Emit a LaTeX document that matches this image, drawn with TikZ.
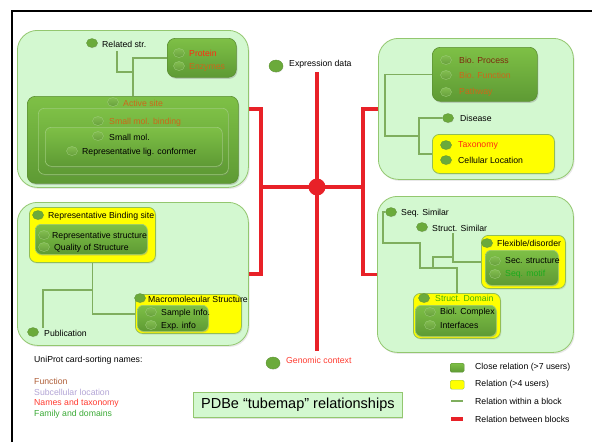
\documentclass[tikz,border=0pt]{standalone}
\usepackage{fontspec}
\setmainfont{Liberation Sans}
\usetikzlibrary{shapes.geometric,shadows}

\definecolor{blockfill}{HTML}{D3F8D0}
\definecolor{blockedge}{HTML}{93C76F}
\definecolor{boxtop}{HTML}{7EC046}
\definecolor{boxbot}{HTML}{5E9A34}
\definecolor{boxedge}{HTML}{5B8F33}
\definecolor{yelfill}{HTML}{FFFF00}
\definecolor{yeledge}{HTML}{93BE55}
\definecolor{dotgreen}{HTML}{6BAA3B}
\definecolor{dotedge}{HTML}{5A9030}
\definecolor{bubtop}{HTML}{82BE50}
\definecolor{bubbot}{HTML}{679F3C}
\definecolor{bubedge}{HTML}{9CCB78}
\definecolor{tubegreen}{HTML}{7FAE5E}
\definecolor{tubered}{HTML}{E82128}
\definecolor{cred}{HTML}{FF2A12}
\definecolor{corange}{HTML}{CC671A}
\definecolor{cbrown}{HTML}{7E2A0E}
\definecolor{cgreen}{HTML}{1DAA1D}
\definecolor{cyelgreen}{HTML}{44B400}
\definecolor{cfunc}{HTML}{B0603A}
\definecolor{csub}{HTML}{B3A5D6}
\definecolor{cnames}{HTML}{FF3B30}
\definecolor{cfamily}{HTML}{3AAA35}

\begin{document}
\begin{tikzpicture}[x=1pt,y=-1pt,
  sz/.style 2 args={minimum width=#1pt, minimum height=#2pt},
  block/.style={draw=blockedge, fill=blockfill, line width=0.8pt, rounded corners=20pt,
    anchor=north west, inner sep=0pt,
    drop shadow={opacity=0.18, shadow xshift=1.2pt, shadow yshift=-1.5pt}},
  greenbox/.style={draw=boxedge, top color=boxtop, bottom color=boxbot, line width=0.6pt,
    rounded corners=8pt, anchor=north west, inner sep=0pt,
    drop shadow={opacity=0.35, shadow xshift=1pt, shadow yshift=-1.5pt}},
  innerbox/.style={draw=bubedge, top color=boxtop, bottom color=boxbot, line width=0.6pt,
    rounded corners=6pt, anchor=north west, inner sep=0pt,
    drop shadow={opacity=0.3, shadow xshift=0.8pt, shadow yshift=-1.2pt}},
  yelbox/.style={draw=yeledge, fill=yelfill, line width=0.8pt, rounded corners=7pt,
    anchor=north west, inner sep=0pt,
    drop shadow={opacity=0.2, shadow xshift=1pt, shadow yshift=-1.2pt}},
  dot/.style={ellipse, inner sep=0pt, minimum width=11pt, minimum height=9pt,
    fill=dotgreen, draw=dotedge, line width=0.3pt,
    drop shadow={opacity=0.2, shadow xshift=0.5pt, shadow yshift=-0.8pt}},
  bigdot/.style={dot, minimum width=14pt, minimum height=12pt},
  bub/.style={ellipse, inner sep=0pt, minimum width=11pt, minimum height=9pt,
    top color=bubtop, bottom color=bubbot, draw=bubedge, line width=0.4pt},
  lbl/.style={anchor=west, inner sep=0pt, font=\fontsize{8.7}{10}\selectfont},
  tube/.style={draw=tubegreen, line width=1.6pt},
  redtube/.style={draw=tubered, line width=3.5pt}
]
\useasboundingbox (0,0) rectangle (592,442);
\fill[white] (0,0) rectangle (592,442);

% outer frame
\draw[line width=2pt] (12,442) -- (12,11) -- (592,11);

% ---------- the four blocks ----------
\node[block, sz={231}{157}] (b1) at (17,30) {};
\node[block, sz={195}{141}] (b2) at (378,38) {};
\node[block, sz={231}{143}] (b3) at (17,202) {};
\node[block, sz={196}{156}] (b4) at (377,196) {};

% ---------- red links between blocks ----------
\coordinate (jl) at (261,187);
\coordinate (jr) at (363,187);
\coordinate (vtop) at (317,72);
\coordinate (vbot) at (317,351);
\draw[redtube] (b1.east) -| (jl) |- (b3.east);
\draw[redtube] (b2.west) -| (jr) |- (b4.west);
\draw[redtube] (jl) -- (jr);
\draw[redtube] (vtop) -- (vbot);
\node[circle, fill=tubered, minimum size=17pt, inner sep=0pt] (hub) at (317,187) {};

% ---------- top-left block: ligands ----------
\node[greenbox, sz={69}{39}] (prot) at (167,38) {};
\node[greenbox, sz={211}{87}] (act) at (27,96) {};
\node[innerbox, sz={190}{66}] (smb) at (38,108) {};
\node[innerbox, sz={177}{39}] (sm) at (45,127) {};

\coordinate (relA) at (117,51);
\coordinate (relB) at (132,72);
\draw[tube] (relA) |- (relB);
\draw[tube] (prot.west) -| (act.north);

\node[dot] (relD) at (92,43) {};
\node[lbl] (relT) at (102,44) {Related str.};
\node[bub] (protD) at (179,53) {};
\node[lbl, text=cred] (protT) at (189,53) {Protein};
\node[bub] (enzD) at (179,66) {};
\node[lbl, text=corange] (enzT) at (189,67) {Enzymes};
\node[bub] (actD) at (113,102) {};
\node[lbl, text=corange] (actT) at (123,103) {Active site};
\node[bub] (smbD) at (98,121) {};
\node[lbl, text=corange] (smbT) at (109,122) {Small mol. binding};
\node[bub] (smD) at (98,136) {};
\node[lbl] (smT) at (109,137) {Small mol.};
\node[bub] (rlcD) at (72,151) {};
\node[lbl] (rlcT) at (82,152) {Representative lig. conformer};

% ---------- free stations on the red line ----------
\node[bigdot] (expD) at (276,66) {};
\node[lbl] (expT) at (289,64) {Expression data};
\node[bigdot] (genD) at (273,363) {};
\node[lbl, text=cnames] (genT) at (286,360) {Genomic context};

% ---------- top-right block: biology ----------
\node[greenbox, sz={105}{54}] (bio) at (432,47) {};
\node[yelbox, sz={122}{39}] (tax) at (432,134) {};
\coordinate (trA) at (385,136);
\coordinate (trB) at (419,136);
\draw[tube] (bio.west) -| (trA) -- (trB);
\node[dot] (disD) at (448,118) {};
\draw[tube] (disD.west) -| (trB) |- (tax.west);

\node[bub] (bpD) at (446,60) {};
\node[lbl, text=cbrown] (bpT) at (459,60) {Bio. Process};
\node[bub] (bfD) at (446,75) {};
\node[lbl, text=corange] (bfT) at (459,75) {Bio. Function};
\node[bub] (pwD) at (446,92) {};
\node[lbl, text=corange] (pwT) at (459,92) {Pathway};
\node[lbl] (disT) at (460,118) {Disease};
\node[dot] (taxD) at (446,145) {};
\node[lbl, text=cred] (taxT) at (458,145) {Taxonomy};
\node[dot] (celD) at (446,160) {};
\node[lbl] (celT) at (458,160) {Cellular Location};

% ---------- bottom-left block: structures ----------
\node[yelbox, sz={126}{55}] (rbs) at (29,207) {};
\node[innerbox, sz={112}{30}] (rs) at (35,224) {};
\node[yelbox, sz={106}{39}] (mms) at (135,294) {};
\node[innerbox, sz={71}{26}] (si) at (137,305) {};
\coordinate (blA) at (92,290);
\coordinate (blB) at (43,328);
\draw[tube] (rbs.south) |- (mms.west);
\draw[tube] (blA) -| (blB);

\node[dot] (rbsD) at (38,215) {};
\node[lbl] (rbsT) at (48,216) {Representative Binding site};
\node[bub] (rsD) at (44,235) {};
\node[lbl] (rsT) at (52,236) {Representative structure};
\node[bub] (qsD) at (44,247) {};
\node[lbl] (qsT) at (54,248) {Quality of Structure};
\node[dot] (mmsD) at (140,298) {};
\node[lbl] (mmsT) at (148,299) {Macromolecular Structure};
\node[bub] (siD) at (151,312) {};
\node[lbl] (siT) at (161,313) {Sample Info.};
\node[bub] (eiD) at (151,325) {};
\node[lbl] (eiT) at (161,326) {Exp. info};
\node[dot] (pubD) at (33,332) {};
\node[lbl] (pubT) at (44,333) {Publication};

% ---------- bottom-right block: similarity ----------
\node[yelbox, sz={84}{53}] (flex) at (481,235) {};
\node[innerbox, sz={73}{35}] (sec) at (485,250) {};
\node[yelbox, sz={87}{45}] (sd) at (413,293) {};
\node[innerbox, sz={81}{31}] (bc) at (415,305) {};

\node[dot] (seqD) at (391,212) {};
\node[dot] (ssD) at (422,227) {};
\coordinate (brA) at (383,243);
\coordinate (brB) at (420,268);
\coordinate (ssA) at (453,233);
\coordinate (lkA) at (433,268);
\coordinate (lkB) at (453,257);
\draw[tube] (seqD.west) -| (brA) -| (brB) -| (sd.north);
\draw[tube] (ssA) |- (flex.west);
\draw[tube] (lkA) |- (lkB);

\node[lbl] (seqT) at (401,213) {Seq. Similar};
\node[lbl] (ssT) at (432,228) {Struct. Similar};
\node[dot] (flexD) at (487,243) {};
\node[lbl] (flexT) at (497,243) {Flexible/disorder};
\node[bub] (secD) at (495,261) {};
\node[lbl] (secT) at (505,261) {Sec. structure};
\node[bub] (smoD) at (495,274) {};
\node[lbl, text=cgreen] (smoT) at (505,274) {Seq. motif};
\node[dot] (sdD) at (424,298) {};
\node[lbl, text=cyelgreen] (sdT) at (435,298) {Struct. Domain};
\node[bub] (bcD) at (430,312) {};
\node[lbl] (bcT) at (440,312) {Biol. Complex};
\node[bub] (ifD) at (430,325) {};
\node[lbl] (ifT) at (440,325) {Interfaces};

% ---------- UniProt colour key ----------
\node[lbl] (uni) at (34,360) {UniProt card-sorting names:};
\node[lbl, text=cfunc] (kf) at (34,381) {Function};
\node[lbl, text=csub] (ks) at (34,392) {Subcellular location};
\node[lbl, text=cnames] (kn) at (34,403) {Names and taxonomy};
\node[lbl, text=cfamily] (kd) at (34,414) {Family and domains};

% ---------- title ----------
\node[draw=blockedge, fill=blockfill, line width=0.8pt, anchor=north west, inner sep=0pt,
  sz={209}{25}, font=\fontsize{14.5}{16}\selectfont,
  drop shadow={opacity=0.25, shadow xshift=1pt, shadow yshift=-1.5pt}] (ttl) at (193,392)
  {PDBe “tubemap” relationships};

% ---------- legend ----------
\node[draw=boxedge, top color=boxtop, bottom color=boxbot, rounded corners=1.5pt,
  anchor=north west, inner sep=0pt, sz={14}{9}] (lgA) at (450,363) {};
\node[lbl] (lgAT) at (475,367) {Close relation (>7 users)};
\node[draw=yeledge, fill=yelfill, rounded corners=1.5pt,
  anchor=north west, inner sep=0pt, sz={14}{9}] (lgB) at (450,380) {};
\node[lbl] (lgBT) at (475,384) {Relation (>4 users)};
\coordinate (lgC1) at (451,401);
\coordinate (lgC2) at (463,401);
\draw[tube] (lgC1) -- (lgC2);
\node[lbl] (lgCT) at (475,401) {Relation within a block};
\coordinate (lgD1) at (451,419);
\coordinate (lgD2) at (463,419);
\draw[redtube] (lgD1) -- (lgD2);
\node[lbl] (lgDT) at (475,419) {Relation between blocks};
\end{tikzpicture}
\end{document}
